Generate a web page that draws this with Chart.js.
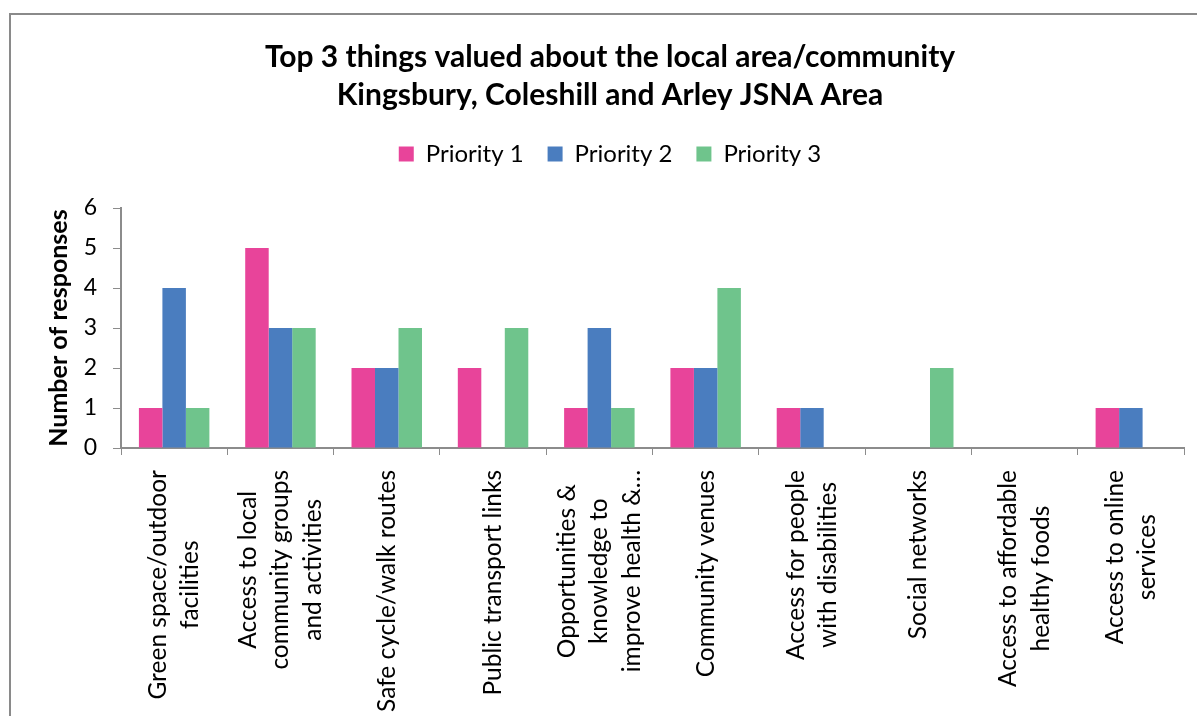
<!DOCTYPE html>
<html>
<head>
<meta charset="utf-8">
<title>Top 3 things valued about the local area/community</title>
<script src="https://cdn.jsdelivr.net/npm/chart.js@4.4.1/dist/chart.umd.min.js"></script>
<style>
    html, body { margin: 0; padding: 0; background: #fff; overflow: hidden; }
    #frame {
        position: absolute; left: 9px; top: 13px; width: 1300px; height: 800px;
        border-left: 2px solid #8a8a8a; border-top: 2px solid #8a8a8a;
    }
    #wrap { position: absolute; left: 0; top: 0; width: 1197px; height: 716px; }
</style>
</head>
<body>
<div id="frame"></div>
<div id="wrap"><canvas id="chartPriorities"></canvas></div>
<script>
// --- DATA ---
const categories = [
    ['Green space/outdoor', 'facilities'],
    ['Access to local', 'community groups', 'and activities'],
    ['Safe cycle/walk routes'],
    ['Public transport links'],
    ['Opportunities &', 'knowledge to', 'improve health &\u2026'],
    ['Community venues'],
    ['Access for people', 'with disabilities'],
    ['Social networks'],
    ['Access to affordable', 'healthy foods'],
    ['Access to online', 'services']
];
const seriesNames = ['Priority 1', 'Priority 2', 'Priority 3'];
const priority1 = [1, 5, 2, 2, 1, 2, 1, 0, 0, 1];
const priority2 = [4, 3, 2, 0, 3, 2, 1, 0, 0, 1];
const priority3 = [1, 3, 3, 3, 1, 4, 0, 2, 0, 0];
const yMin = 0, yMax = 6, yStep = 1;

const FONT = 'Lato, "Open Sans", sans-serif';
const AXIS_GREY = '#8c8c8c';
const PAD_LEFT = 36;

// rotated category labels, lines centred on each other, top end near the axis
const xLabelPlugin = {
    id: 'xLabels',
    afterDraw(chart) {
        const ctx = chart.ctx;
        const x = chart.scales.x;
        const lineGap = 32.5;
        ctx.save();
        ctx.font = '24.5px ' + FONT;
        ctx.fillStyle = '#000';
        ctx.textAlign = 'center';
        ctx.textBaseline = 'middle';
        categories.forEach((lines, i) => {
            const cx = x.getPixelForValue(i);
            const maxW = Math.max(...lines.map(l => ctx.measureText(l).width));
            ctx.save();
            ctx.translate(cx, x.top + 22);
            ctx.rotate(-Math.PI / 2);
            lines.forEach((l, j) => {
                ctx.fillText(l, -maxW / 2, (j - (lines.length - 1) / 2) * lineGap);
            });
            ctx.restore();
        });
        ctx.restore();
    }
};

// extra room under the legend
const legendGap = {
    id: 'legendGap',
    beforeInit(chart) {
        const fit = chart.legend.fit;
        chart.legend.fit = function() {
            fit.call(this);
            this.height = 90;
        };
    }
};

const ctx = document.getElementById('chartPriorities');
new Chart(ctx, {
    type: 'bar',
    data: {
        labels: categories.map(c => c.join(' ')),
        datasets: [
            { label: seriesNames[0], data: priority1, backgroundColor: '#e8449a' },
            { label: seriesNames[1], data: priority2, backgroundColor: '#4a7dbf' },
            { label: seriesNames[2], data: priority3, backgroundColor: '#6fc48c' }
        ]
    },
    options: {
        responsive: true,
        maintainAspectRatio: false,
        animation: false,
        devicePixelRatio: 1,
        layout: { padding: { left: PAD_LEFT, right: 13, top: 0, bottom: 0 } },
        datasets: { bar: { categoryPercentage: 0.663, barPercentage: 1.0, borderWidth: 0 } },
        plugins: {
            title: {
                display: true,
                text: ['Top 3 things valued about the local area/community', 'Kingsbury, Coleshill and Arley JSNA Area'],
                color: '#000',
                font: { family: FONT, size: 30, weight: 'bold', lineHeight: 38 / 30 },
                padding: { top: 38, bottom: 4 }
            },
            legend: {
                position: 'top',
                labels: {
                    color: '#000',
                    font: { family: FONT, size: 24 },
                    boxWidth: 15,
                    boxHeight: 15,
                    padding: 24
                }
            },
            tooltip: { enabled: false }
        },
        scales: {
            x: {
                offset: true,
                grid: { offset: true, drawOnChartArea: false, drawTicks: true, tickLength: 7, color: AXIS_GREY, lineWidth: 1 },
                border: { color: AXIS_GREY, width: 2 },
                ticks: { display: false },
                afterFit(scale) { scale.height = 268; }
            },
            y: {
                min: yMin,
                max: yMax,
                grid: { drawOnChartArea: false, drawTicks: true, tickLength: 8, color: AXIS_GREY, lineWidth: 1 },
                border: { color: AXIS_GREY, width: 2 },
                ticks: { stepSize: yStep, color: '#000', font: { family: FONT, size: 23 }, padding: 16 },
                title: {
                    display: true,
                    text: 'Number of responses',
                    color: '#000',
                    font: { family: FONT, size: 25, weight: 'bold' },
                    padding: { top: 46 - PAD_LEFT - 2, bottom: 0 }
                },
                afterFit(scale) { scale.width = 121 - PAD_LEFT; }
            }
        }
    },
    plugins: [xLabelPlugin, legendGap]
});
</script>
</body>
</html>
